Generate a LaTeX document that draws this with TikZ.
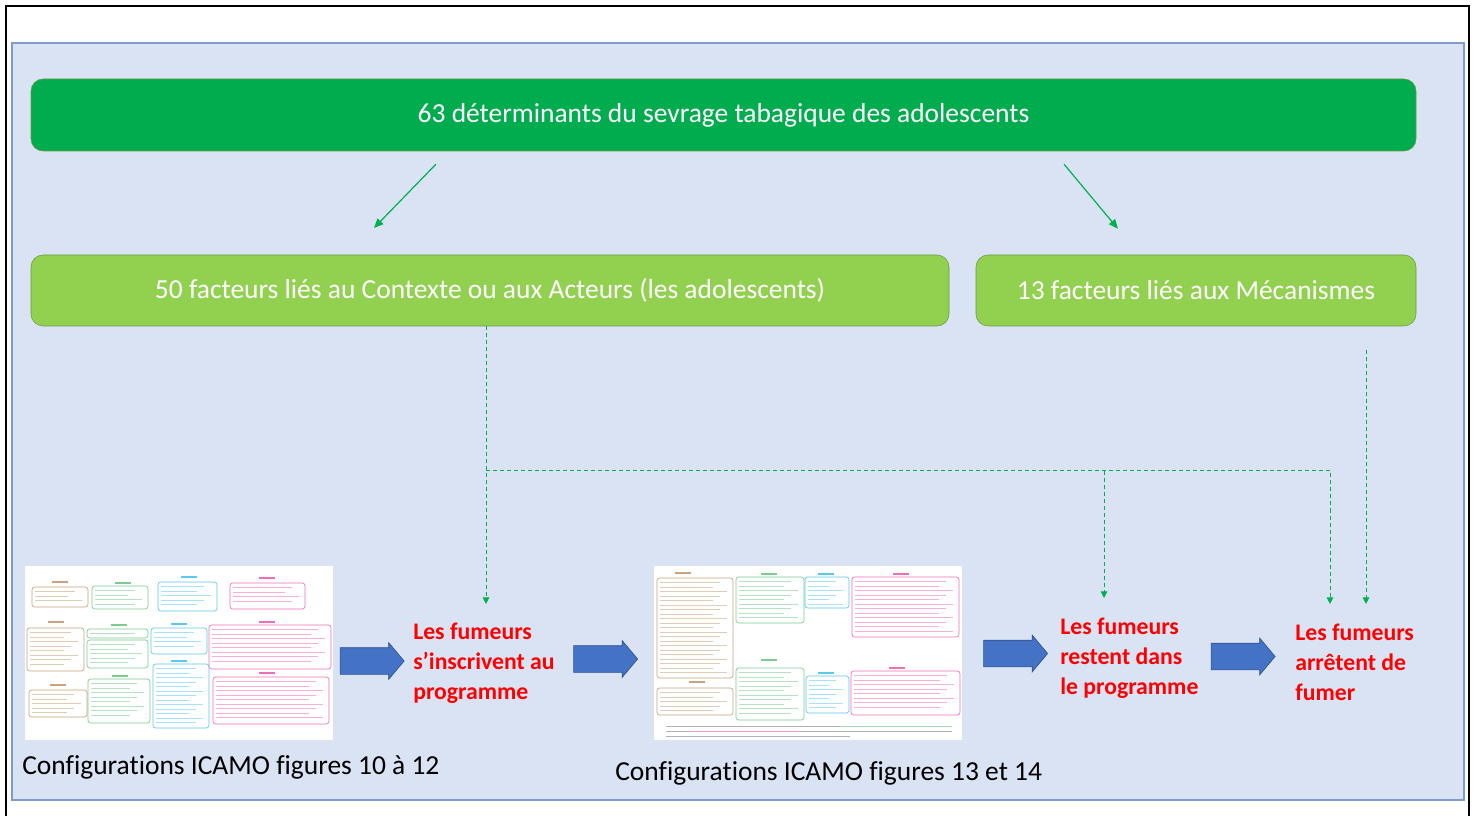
\documentclass[tikz,border=0pt]{standalone}
\usepackage{fontspec}
\setmainfont{Carlito}[Ligatures=NoCommon]
\usetikzlibrary{arrows.meta, positioning, calc, shapes.arrows}
\definecolor{panelbg}{HTML}{DAE3F3}
\definecolor{panelline}{HTML}{7F9ACD}
\definecolor{darkgreen}{HTML}{00AC4E}
\definecolor{lightgreen}{HTML}{92D050}
\definecolor{greenline}{HTML}{6A9A45}
\definecolor{arrowgreen}{HTML}{00B050}
\definecolor{arrowblue}{HTML}{4472C4}
\definecolor{arrowedge}{HTML}{2F528F}
\definecolor{tbrown}{HTML}{C9A27E}
\definecolor{tgreen}{HTML}{7CCB8F}
\definecolor{tcyan}{HTML}{5BC8F0}
\definecolor{tpink}{HTML}{F06EB8}

\begin{document}
\begin{tikzpicture}[
    x=0.75pt, y=-0.75pt,
    topbox/.style={rectangle, rounded corners=9pt, fill=darkgreen, draw=greenline, minimum width=1038.75pt, minimum height=54pt, text=white, font=\fontsize{20.6}{24}\selectfont},
    factor/.style={rectangle, rounded corners=9pt, fill=lightgreen, draw=greenline, minimum height=53.25pt, text=white, font=\fontsize{20.6}{24}\selectfont},
    outcome/.style={text=red, font=\bfseries\fontsize{17.8}{22.5}\selectfont, align=left, anchor=west, inner sep=0pt},
    caption/.style={font=\fontsize{20.6}{24}\selectfont, anchor=west, inner sep=0pt},
    link/.style={-{Triangle[length=7pt,width=6pt]}, draw=arrowgreen, line width=0.9pt},
    flow/.style={-{Triangle[length=5pt,width=5pt]}, draw=arrowgreen, line width=0.75pt, dash pattern=on 3pt off 2.25pt},
    bigarrow/.style={single arrow, fill=arrowblue, draw=arrowedge, line width=0.5pt, minimum height=48pt, minimum width=27pt, single arrow head extend=3.75pt, single arrow tip angle=100, inner xsep=0pt, inner ysep=9.75pt, text height=0pt, text depth=0pt},
    thumb/.style={rectangle, fill=white, minimum width=231pt, minimum height=130.5pt, inner sep=0pt}
]
    \useasboundingbox (0,0) rectangle (1478,816);
    % frame and panel
    \draw[line width=1.5pt] (6,830) -- (6,6) -- (1469,6) -- (1469,830);
    \draw[fill=panelbg, draw=panelline, line width=1pt] (12,43) rectangle (1464,800);

    % determinants
    \node[topbox] (top) at (723.5,115) {63 déterminants du sevrage tabagique des adolescents};
    \node[factor, minimum width=688.5pt] (ctx) at (490,290.5) {50 facteurs liés au Contexte ou aux Acteurs (les adolescents)};
    \node[factor, minimum width=330pt] (mec) at (1196,290.5) {13 facteurs liés aux Mécanismes};
    \draw[link, shorten <=13.6pt, shorten >=28pt] ($(top.south)+(-275,0)$) -- ($(ctx.north)+(-142,0)$);
    \draw[link, shorten <=12.7pt, shorten >=25.4pt] ($(top.south)+(329.7,0)$) -- ($(mec.north)+(-56.4,0)$);

    % configurations
    \node[thumb] (thumbA) at (179,653) {};
    \node[thumb] (thumbB) at (808,653) {};
    \foreach \xa/\ya/\xb/\yb/\col in {32/587/88/607/tbrown, 92/586/148/609/tgreen, 158/582/217/611/tcyan, 230/583/305/609/tpink,
        27/628/84/671/tbrown, 87/629/148/638/tgreen, 87/640/148/668/tgreen, 151/628/207/654/tcyan, 209/625/331/669/tpink,
        29/690/87/717/tbrown, 88/679/150/723/tgreen, 153/664/209/728/tcyan, 213/677/329/724/tpink,
        657/578/733/678/tbrown, 657/688/733/715/tbrown, 736/577/804/623/tgreen, 805/577/849/608/tcyan, 852/577/959/637/tpink,
        736/668/804/720/tgreen, 806/676/849/713/tcyan, 851/671/960/715/tpink} {
        \draw[\col, line width=0.5pt, rounded corners=2pt] (\xa,\ya) rectangle (\xb,\yb);
        \pgfmathtruncatemacro\nl{(\yb-\ya-4)/4.5}
        \foreach \k in {1,...,\nl}
            \draw[\col!55, line width=0.6pt] ({\xa+3},{\ya+\k*4.5}) -- ({\xb-6-mod(\k,3)*7},{\ya+\k*4.5});
    }
    \foreach \hx/\hy/\col in {60/582/tbrown, 123/583/tgreen, 189/577/tcyan, 267/578/tpink,
        56/622/tbrown, 119/625/tgreen, 179/624/tcyan, 267/622/tpink,
        58/685/tbrown, 120/676/tgreen, 179/661/tcyan, 267/673/tpink,
        683/573/tbrown, 769/574/tgreen, 826/574/tcyan, 901/574/tpink,
        697/682/tbrown, 769/660/tgreen, 826/673/tcyan, 897/668/tpink}
        \draw[\col, line width=0.9pt] ({\hx-8},\hy) -- ({\hx+8},\hy);
    \draw[gray!60, line width=0.6pt] (666,726) -- (952,726) (666,731) -- (952,731) (666,736) -- (850,736);
    \draw[tgreen!70, line width=0.6pt] (840,726) -- (952,726);
    \draw[tpink!70, line width=0.6pt] (690,731) -- (800,731);
    \node[caption] (capA) at (22,767) {Configurations ICAMO figures 10 à 12};
    \node[caption] (capB) at (615,773) {Configurations ICAMO figures 13 et 14};

    % smokers' path
    \node[outcome] (enr) at (413,663) {Les fumeurs\\s’inscrivent au\\programme};
    \node[outcome] (stay) at (1060,658) {Les fumeurs\\restent dans\\le programme};
    \node[outcome] (quit) at (1295,662) {Les fumeurs\\arrêtent de\\fumer};
    \node[bigarrow] (a1) at (366.5,661) {};
    \node[bigarrow] (a2) at (600,659) {};
    \node[bigarrow] (a3) at (1010,653.5) {};
    \node[bigarrow] (a4) at (1237.5,656.5) {};

    % influence of the factors
    \coordinate (c1) at (486,604);
    \coordinate (br) at (486,470.5);
    \coordinate (c2) at (1104,598);
    \coordinate (c3) at (1330,604);
    \coordinate (c4) at (1366,604);
    \draw[flow] (ctx.south -| c1) -- (c1);
    \draw[flow] (br) -| (c3);
    \draw[flow] (br -| c2) -- (c2);
    \draw[flow] ($(mec.south -| c4)+(0,24)$) -- (c4);
\end{tikzpicture}
\end{document}
